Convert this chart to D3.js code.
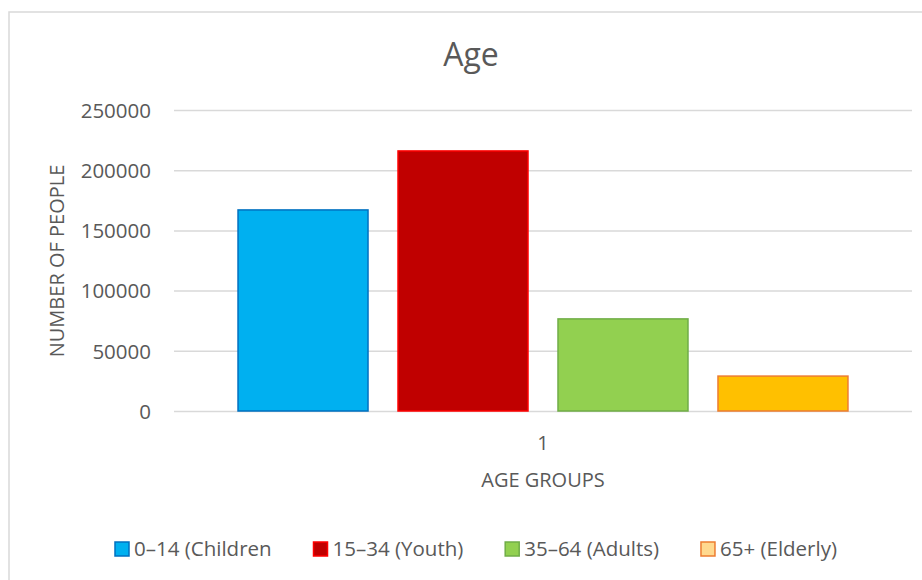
<!DOCTYPE html>
<html>
<head>
<meta charset="utf-8">
<script src="https://cdn.jsdelivr.net/npm/d3@7"></script>
<style>
  html, body { margin: 0; padding: 0; background: #fff; }
  svg { display: block; }
  text { font-family: "Open Sans", "Noto Sans", sans-serif; fill: #595959; }
</style>
</head>
<body>
<script>
// ---- data ----
const categories = ["1"];
const seriesNames = ["0–14 (Children", "15–34 (Youth)", "35–64 (Adults)", "65+ (Elderly)"];
const seriesValues = [167000, 216000, 76500, 29000];
const yTicks = [0, 50000, 100000, 150000, 200000, 250000];
const fills = ["#00B0F0", "#C00000", "#92D050", "#FFC000"];
const strokes = ["#0070C0", "#FF0000", "#70AD47", "#ED7D31"];
const legendFills = ["#00B0F0", "#C00000", "#92D050", "#FFD98F"];

const W = 922, H = 580;
const plot = { left: 174, right: 912, top: 110, bottom: 411 };

const svg = d3.select("body").append("svg").attr("width", W).attr("height", H);

// chart border (only top/left visible, as in the cropped reference)
svg.append("rect")
  .attr("x", 9).attr("y", 12).attr("width", 960).attr("height", 620)
  .attr("fill", "#fff").attr("stroke", "#d9d9d9").attr("stroke-width", 1.5);

// scales
const y = d3.scaleLinear().domain([0, 250000]).range([plot.bottom, plot.top]);
const x0 = d3.scaleBand().domain(categories).range([plot.left, plot.right])
  .paddingInner(0.095).paddingOuter(0.095);
const x1 = d3.scaleBand().domain(seriesNames).range([0, x0.bandwidth()])
  .paddingInner(0.1875).paddingOuter(0);

// gridlines
svg.append("g")
  .attr("transform", `translate(${plot.left},0)`)
  .call(d3.axisLeft(y).tickValues(yTicks).tickSize(-(plot.right - plot.left)).tickFormat(""))
  .call(g => g.select(".domain").remove())
  .call(g => g.selectAll("line").attr("stroke", "#d9d9d9").attr("stroke-width", 1.5));

// y tick labels
svg.append("g")
  .attr("transform", `translate(151,0)`)
  .call(d3.axisLeft(y).tickValues(yTicks).tickSize(0).tickPadding(0).tickFormat(d3.format("d")))
  .call(g => g.select(".domain").remove())
  .call(g => g.selectAll("text")
    .style("font-family", '"Open Sans", sans-serif')
    .attr("font-size", 20.5).attr("fill", "#595959").attr("dy", "0.36em"));

// bars
const grp = svg.append("g").selectAll("g").data(categories).join("g")
  .attr("transform", d => `translate(${x0(d)},0)`);
grp.selectAll("rect")
  .data(seriesNames.map((s, i) => ({ s, v: seriesValues[i], i })))
  .join("rect")
  .attr("x", d => x1(d.s))
  .attr("y", d => y(d.v))
  .attr("width", x1.bandwidth())
  .attr("height", d => y(0) - y(d.v))
  .attr("fill", d => fills[d.i])
  .attr("stroke", d => strokes[d.i])
  .attr("stroke-width", 1.5);

// x axis labels
svg.append("g")
  .attr("transform", `translate(0,${plot.bottom})`)
  .call(d3.axisBottom(x0).tickSize(0).tickPadding(0))
  .call(g => g.select(".domain").remove())
  .call(g => g.selectAll("text")
    .style("font-family", '"Open Sans", sans-serif')
    .attr("font-size", 20).attr("fill", "#595959").attr("dy", null).attr("y", 39));

// title
svg.append("text").attr("x", 471).attr("y", 66).attr("text-anchor", "middle")
  .attr("font-size", 32).text("Age");

// axis titles
svg.append("text").attr("x", 543).attr("y", 487).attr("text-anchor", "middle")
  .attr("font-size", 20).text("AGE GROUPS");
svg.append("text")
  .attr("transform", "translate(64,261) rotate(-90)")
  .attr("text-anchor", "middle").attr("font-size", 20).text("NUMBER OF PEOPLE");

// legend
const legend = svg.append("g");
const items = legend.selectAll("g").data(seriesNames).join("g");
items.append("rect")
  .attr("x", 0).attr("y", 542).attr("width", 14).attr("height", 14)
  .attr("fill", (d, i) => legendFills[i]).attr("stroke", (d, i) => strokes[i]).attr("stroke-width", 1.5);
items.append("text").attr("x", 19).attr("y", 556).attr("font-size", 20.5).text(d => d);
const widths = [];
items.each(function () {
  const tw = d3.select(this).select("text").node().getComputedTextLength();
  widths.push(19 + tw);
});
const legStart = 115, legEnd = 837;
const gap = (legEnd - legStart - d3.sum(widths)) / (widths.length - 1);
let start = legStart;
items.attr("transform", (d, i) => {
  const t = `translate(${start},0)`;
  start += widths[i] + gap;
  return t;
});
</script>
</body>
</html>
